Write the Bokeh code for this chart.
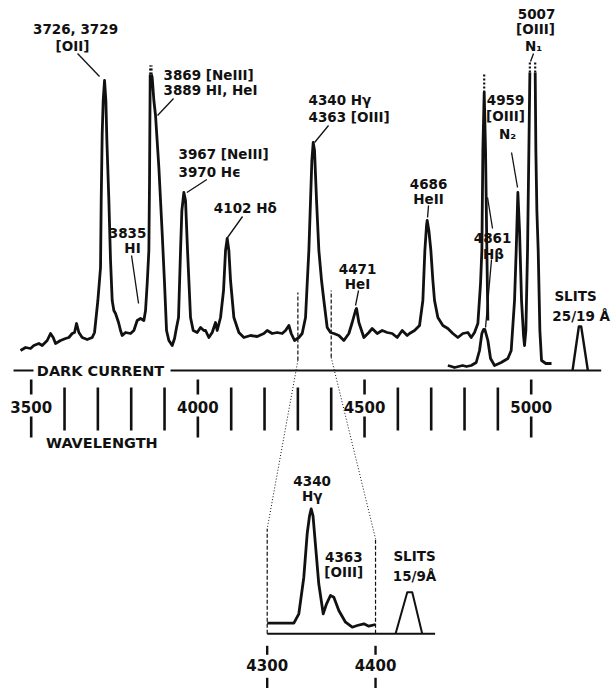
from bokeh.plotting import figure
from bokeh.models import Range1d
from bokeh.core.properties import value
from bokeh.embed import file_html
from bokeh.resources import INLINE

NAN = float("nan")

# ---------------- data (wavelength in Angstrom, intensity above dark current, arbitrary units) ----------------
# high-gain scan
hi_wl = [3468, 3483, 3498, 3508, 3523, 3533, 3548, 3558, 3566, 3573, 3588, 3603, 3613, 3623, 3630, 3636, 3643,
         3653, 3668, 3683, 3690, 3700, 3708, 3710, 3713, 3716, 3720, 3724, 3727, 3733, 3738, 3743, 3748, 3753,
         3762, 3768, 3773, 3783, 3798, 3808, 3818, 3828, 3838, 3843, 3848, 3853, 3855, 3857,
         NAN,
         3861, 3863, 3868, 3873, 3883, 3893, 3900, 3906, 3913, 3923, 3930, 3936, 3942, 3948, 3952, 3958,
         3963, 3969, 3978, 3986, 3998, 4008, 4018, 4023, 4033, 4043, 4053, 4058, 4068, 4077, 4083, 4088, 4093,
         4098, 4108, 4123, 4138, 4158, 4178, 4198, 4208, 4223, 4238, 4253, 4263, 4273, 4280, 4290, 4303, 4313,
         4323, 4328, 4333, 4338, 4342, 4346, 4350, 4356, 4363, 4371, 4378, 4388, 4398, 4408, 4423, 4438, 4453,
         4463, 4473, 4476, 4483, 4498, 4513, 4523, 4538, 4553, 4568, 4583, 4598, 4613, 4628, 4635, 4650, 4665,
         4675, 4681, 4686, 4688, 4693, 4699, 4705, 4710, 4720, 4735, 4750, 4765, 4780, 4795, 4810, 4820, 4830,
         4840, 4848, 4852, 4855, 4859, 4863, 4867, 4870]
hi_int = [20, 23, 22, 25, 27, 25, 30, 37, 33, 27, 30, 32, 33, 37, 38, 47, 38,
          33, 31, 33, 38, 70, 103, 170, 237, 270, 290, 270, 230, 170, 110, 70, 60, 57,
          48, 40, 35, 38, 37, 40, 50, 52, 50, 60, 87, 120, 190, 296,
          NAN,
          296, 293, 270, 255, 203, 137, 87, 40, 30, 25, 32, 43, 53, 120, 160, 178,
          170, 120, 53, 40, 38, 43, 40, 40, 33, 38, 48, 40, 53, 80, 120, 132, 120,
          90, 53, 38, 33, 35, 34, 37, 40, 37, 38, 37, 40, 45, 37, 30, 33, 37,
          53, 87, 120, 170, 210, 228, 220, 170, 120, 90, 70, 43, 38, 37, 35, 30, 37,
          48, 60, 62, 48, 33, 38, 42, 37, 40, 38, 37, 33, 40, 35, 37, 40, 45,
          70, 120, 145, 150, 140, 120, 90, 70, 53, 45, 42, 37, 33, 37, 38, 33, 38,
          47, 87, 120, 220, 278, 220, 120, 50]

# low-gain scan (Hbeta, N2, N1)
lo_wl = [4750, 4761, 4770, 4782, 4794, 4806, 4820, 4835, 4845, 4852, 4857, 4861, 4870, 4878, 4890, 4910,
         4930, 4940, 4950, 4955, 4960, 4965, 4971, 4977, 4980, 4984, 4989, 4993, 4996,
         NAN,
         5012, 5014, 5017, 5021, 5026, 5031, 5044, 5061]
lo_int = [5, 4, 3, 4, 5, 4, 5, 8, 20, 37, 41, 41, 30, 12, 5, 8,
          12, 20, 70, 120, 178, 140, 70, 35, 25, 40, 120, 220, 298,
          NAN,
          298, 220, 160, 120, 40, 10, 7, 7]

# off-scale peak tops (drawn dotted): wavelength, from, to
clip_wl = [3857, 3861, 4859, 4996, 5012]
clip_lo = [296, 296, 278, 298, 298]
clip_hi = [305, 305, 298, 308, 308]

# slit profile 25/19 A
slit_wl = [5124, 5143, 5150, 5170]
slit_int = [0, 44, 44, 0]

# expanded scan 4300-4400
ins_wl = [4300, 4324.6, 4329.2, 4333.8, 4336.9, 4339.1, 4340.6, 4342.3, 4343.7, 4347.6, 4351.7, 4354.8,
          4358.4, 4361.5, 4366.1, 4372.3, 4378.5, 4383.1, 4389.2, 4393.8, 4400]
ins_int = [10.6, 10.6, 20, 56.6, 100, 118, 125, 118, 100, 50, 20, 30,
           38.3, 36.6, 23.3, 11.6, 6.6, 8.3, 10, 7.6, 9.3]
ins_slit_wl = [4418.5, 4429.3, 4433.9, 4443.1]
ins_slit_int = [0, 41.6, 41.6, 0]

# axis ticks
minor_ticks = [3600, 3700, 3800, 3900, 4100, 4200, 4300, 4400, 4600, 4700, 4800, 4900]
major_ticks = [3500, 4000, 4500, 5000]
major_labels = ["3500", "4000", "4500", "5000"]
inset_ticks = [4300, 4400]
inset_labels = ["4300", "4400"]

# line identifications
line_texts = ["3726, 3729", "[OII]", "3869 [NeIII]", "3889 HI, HeI", "3967 [NeIII]", "3970  H\u03f5",
              "4102 H\u03b4", "3835", "HI", "4340 H\u03b3", "4363 [OIII]", "4471", "HeI", "4686", "HeII",
              "4861", "H\u03b2", "4959", "[OIII]", "N\u2082", "5007", "[OIII]", "N\u2081", "SLITS", "25/19 \u00c5"]
text_wl = [3633, 3624, 3897, 3897, 3942, 3942, 4048, 3789, 3804, 4332, 4332, 4479, 4479, 4692, 4692,
           4884, 4887, 4923, 4923, 4929, 5016, 5013, 5007, 5133, 5150]
text_int = [342, 325, 296, 281, 217, 199, 163, 138, 123, 271, 254, 102, 87, 187, 172,
            133, 117, 271, 255, 237, 357, 342, 325, 75, 55]
text_align = ["center", "center", "left", "left", "left", "left", "left", "center", "center", "left", "left",
              "center", "center", "center", "center", "center", "center", "center", "center", "center",
              "center", "center", "center", "center", "center"]

# leader lines
lead_x0 = [3639, 3927, 4027, 4134, 3801, 4392, 4482, 4692, 4869, 4881, 4941, 5007]
lead_y0 = [317, 272, 191, 154, 115, 245, 80, 165, 173, 111, 218, 317]
lead_x1 = [3705, 3879, 3967, 4089, 3822, 4350, 4473, 4689, 4884, 4863, 4959, 4998]
lead_y1 = [294, 255, 178, 133, 67, 228, 65, 153, 142, 43, 183, 309]

inset_texts = ["4340", "H\u03b3", "4363", "[OIII]", "SLITS", "15/9\u00c5"]
inset_text_wl = [4341.5, 4341.5, 4370.7, 4370.7, 4436, 4436]
inset_text_int = [153, 138, 77, 62, 78, 58]

# ---------------- figure ----------------
W, H = 614, 688
MX0, MX1 = 3407.9, 5249.9
MY0, MY1 = -318.0, 370.0
IX0, IX1 = 4053.8, 4620.6
IY0, IY1 = -54.7, 633.3

p = figure(width=W, height=H, output_backend="svg", toolbar_location=None,
           x_range=Range1d(MX0, MX1), y_range=Range1d(MY0, MY1),
           x_axis_location=None, y_axis_location=None, min_border=0,
           outline_line_color=None, background_fill_color="white", border_fill_color="white")
p.grid.visible = False
p.extra_x_ranges = {"ix": Range1d(IX0, IX1)}
p.extra_y_ranges = {"iy": Range1d(IY0, IY1)}

INK = "#111111"
FONT = value("DejaVu Sans")


def ins_to_main(w, i):
    fx = (w - IX0) / (IX1 - IX0)
    fy = (i - IY0) / (IY1 - IY0)
    return MX0 + fx * (MX1 - MX0), MY0 + fy * (MY1 - MY0)


def txt(xs, ys, texts, align="center", size="13.5px", **kw):
    p.text(x=xs, y=ys, text=texts, text_align=align, text_baseline="middle",
           text_font=FONT, text_font_size=size, text_font_style="bold", text_color=INK, **kw)


# spectra
p.line(hi_wl, hi_int, line_color=INK, line_width=2.8, line_join="round")
p.line(lo_wl, lo_int, line_color=INK, line_width=2.8, line_join="round")
p.segment(x0=clip_wl, y0=clip_lo, x1=clip_wl, y1=clip_hi, line_color=INK, line_width=2.2, line_dash="2 2")
p.line(slit_wl, slit_int, line_color=INK, line_width=2.4, line_join="round")

# dark current line
p.segment(x0=[3447, 3918], y0=[0, 0], x1=[3507, 5210], y1=[0, 0], line_color=INK, line_width=2.2)
txt([3708], [0], ["DARK CURRENT"], size="14.5px")

# wavelength scale
p.segment(x0=minor_ticks, y0=[-17] * len(minor_ticks), x1=minor_ticks, y1=[-60] * len(minor_ticks),
          line_color=INK, line_width=2.6)
p.segment(x0=major_ticks, y0=[-9] * 4, x1=major_ticks, y1=[-24] * 4, line_color=INK, line_width=2.6)
p.segment(x0=major_ticks, y0=[-46] * 4, x1=major_ticks, y1=[-67] * 4, line_color=INK, line_width=2.6)
txt(major_ticks, [-36] * 4, major_labels, size="15px")
txt([3712], [-72], ["WAVELENGTH"], size="14.5px")

# line labels and leaders
for a in ("left", "center"):
    idx = [k for k, al in enumerate(text_align) if al == a]
    txt([text_wl[k] for k in idx], [text_int[k] for k in idx], [line_texts[k] for k in idx], align=a)
p.segment(x0=lead_x0, y0=lead_y0, x1=lead_x1, y1=lead_y1, line_color=INK, line_width=1.3)

# zoom markers in main scan
p.segment(x0=inset_ticks, y0=[10, 13], x1=inset_ticks, y1=[78, 80], line_color=INK, line_width=1.2,
          line_dash="4 2")
# connectors to expanded scan
cx0, cy0, cx1, cy1 = [], [], [], []
for w, top_main, top_ins in zip(inset_ticks, [10, 13], [105, 95]):
    xe, ye = ins_to_main(w, top_ins)
    cx0.append(w); cy0.append(top_main); cx1.append(xe); cy1.append(ye)
p.segment(x0=cx0, y0=cy0, x1=cx1, y1=cy1, line_color=INK, line_width=1.0, line_dash="1 2")

# ---------------- expanded scan (inset) ----------------
R = dict(x_range_name="ix", y_range_name="iy")
p.segment(x0=inset_ticks, y0=[0, 0], x1=inset_ticks, y1=[105, 95], line_color=INK, line_width=1.2,
          line_dash="4 2", **R)
p.segment(x0=[4300], y0=[0], x1=[4455], y1=[0], line_color=INK, line_width=2.0, **R)
p.line(ins_wl, ins_int, line_color=INK, line_width=2.8, line_join="round", **R)
p.line(ins_slit_wl, ins_slit_int, line_color=INK, line_width=2.0, line_join="round", **R)
p.segment(x0=inset_ticks, y0=[-12, -12], x1=inset_ticks, y1=[-21, -21], line_color=INK, line_width=2.4, **R)
p.segment(x0=inset_ticks, y0=[-44, -44], x1=inset_ticks, y1=[-60, -60], line_color=INK, line_width=2.4, **R)
txt(inset_ticks, [-31, -31], inset_labels, size="15px", **R)
txt(inset_text_wl, inset_text_int, inset_texts, **R)

open("out.html", "w").write(file_html(p, INLINE))
